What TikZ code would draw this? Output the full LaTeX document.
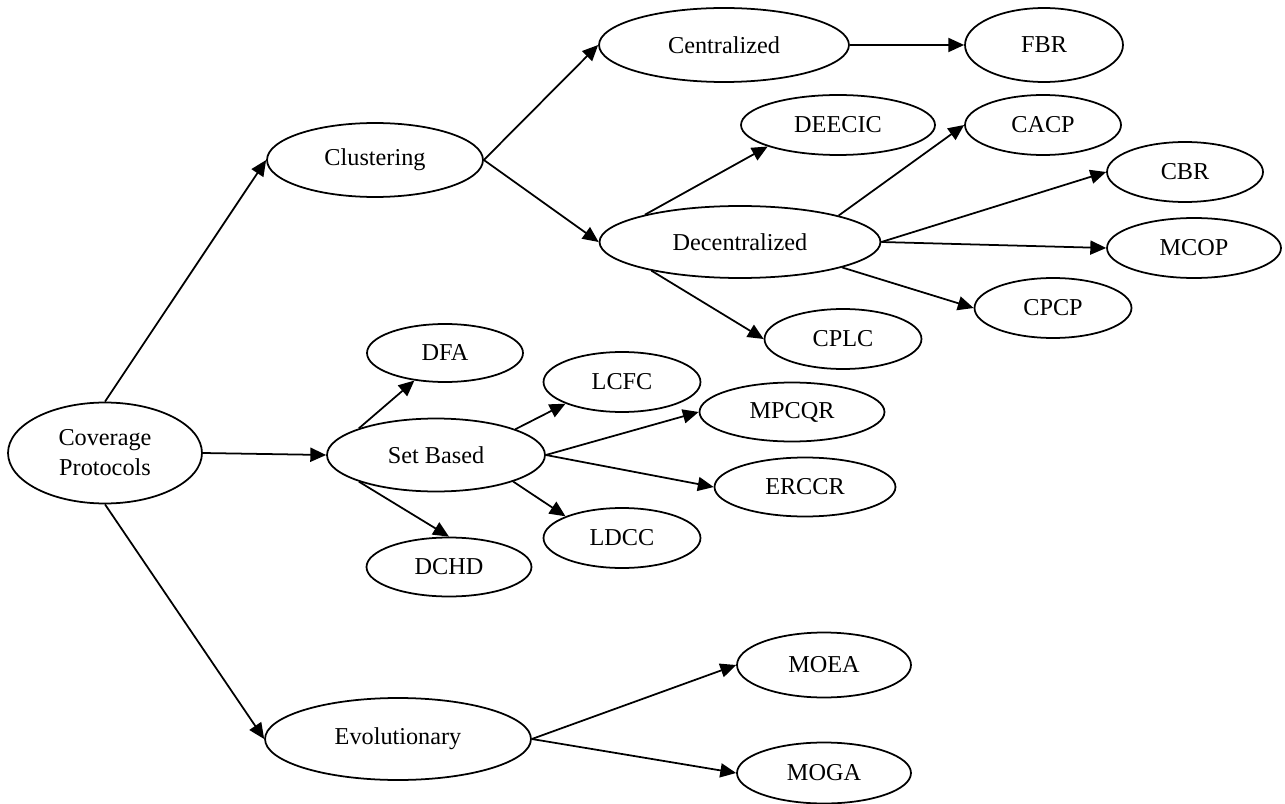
\documentclass[tikz,border=0pt]{standalone}
\usepackage{fontspec}
\setmainfont{Liberation Serif}
\usetikzlibrary{arrows.meta, shapes.geometric}

\begin{document}
\begin{tikzpicture}[x=0.02cm, y=-0.02cm, >={Triangle[length=9pt, width=8pt]},
    noeud/.style={ellipse, draw, line width=1pt, inner sep=0pt,
                  font=\fontsize{13.8}{17}\selectfont, align=center},
    grand/.style={noeud, minimum height=1.48cm},
    petit/.style={noeud, minimum height=1.2cm},
    fleche/.style={->, line width=1pt}]
  \useasboundingbox (0,0) rectangle (1285,804);
  % Racine
  \node[noeud, minimum width=3.88cm, minimum height=2.02cm] (cov) at (105,453) {Coverage\\Protocols};
  % Clustering
  \node[grand, minimum width=4.32cm] (clu) at (375,160) {Clustering};
  \node[grand, minimum width=5.0cm] (cen) at (724,45) {Centralized};
  \node[grand, minimum width=3.16cm] (fbr) at (1044,45) {FBR};
  \node[noeud, minimum width=5.62cm, minimum height=1.44cm] (dec) at (740,242) {Decentralized};
  \node[petit, minimum width=3.88cm] (deecic) at (838,125) {DEECIC};
  \node[petit, minimum width=3.12cm] (cacp) at (1043,125) {CACP};
  \node[petit, minimum width=3.12cm] (cbr) at (1185,172) {CBR};
  \node[petit, minimum width=3.48cm] (mcop) at (1194,248) {MCOP};
  \node[petit, minimum width=3.14cm] (cpcp) at (1053,308) {CPCP};
  \node[petit, minimum width=3.14cm] (cplc) at (843,339) {CPLC};
  % Set Based
  \node[noeud, minimum width=4.36cm, minimum height=1.46cm] (setb) at (436,455) {Set Based};
  \node[petit, minimum width=3.12cm, minimum height=1.16cm] (dfa) at (445,353) {DFA};
  \node[petit, minimum width=3.14cm] (lcfc) at (622,382) {LCFC};
  \node[petit, minimum width=3.7cm, minimum height=1.18cm] (mpcqr) at (792,412) {MPCQR};
  \node[petit, minimum width=3.62cm, minimum height=1.18cm] (erccr) at (805,487) {ERCCR};
  \node[petit, minimum width=3.14cm] (ldcc) at (622,538) {LDCC};
  \node[petit, minimum width=3.3cm, minimum height=1.18cm] (dchd) at (449,567) {DCHD};
  % Evolutionary
  \node[noeud, minimum width=5.32cm, minimum height=1.64cm] (evo) at (398,739) {Evolutionary};
  \node[noeud, minimum width=3.48cm, minimum height=1.3cm] (moea) at (824,665) {MOEA};
  \node[noeud, minimum width=3.48cm, minimum height=1.22cm] (moga) at (824,773) {MOGA};
  % Fleches depuis la racine
  \draw[fleche] (cov.north) -- (clu.west);
  \draw[fleche] (cov.east) -- (setb.west);
  \draw[fleche] (cov.south) -- (evo.west);
  % Fleches clustering
  \draw[fleche] (clu.east) -- (cen.west);
  \draw[fleche] (clu.east) -- (dec.west);
  \draw[fleche] (cen.east) -- (fbr.west);
  \draw[fleche] (dec.164) -- (deecic.197);
  \draw[fleche] (dec.15) -- (cacp.west);
  \draw[fleche] (dec.east) -- (cbr.west);
  \draw[fleche] (dec.east) -- (mcop.west);
  \draw[fleche] (dec.-14) -- (cpcp.west);
  \draw[fleche] (dec.198) -- (cplc.west);
  % Fleches set based
  \draw[fleche] (setb.161) -- (dfa.222);
  \draw[fleche] (setb.18) -- (lcfc.201);
  \draw[fleche] (setb.east) -- (mpcqr.west);
  \draw[fleche] (setb.east) -- (erccr.west);
  \draw[fleche] (setb.-19) -- (ldcc.159);
  \draw[fleche] (setb.199) -- (dchd.north);
  % Fleches evolutionary
  \draw[fleche] (evo.east) -- (moea.west);
  \draw[fleche] (evo.east) -- (moga.west);
\end{tikzpicture}
\end{document}
